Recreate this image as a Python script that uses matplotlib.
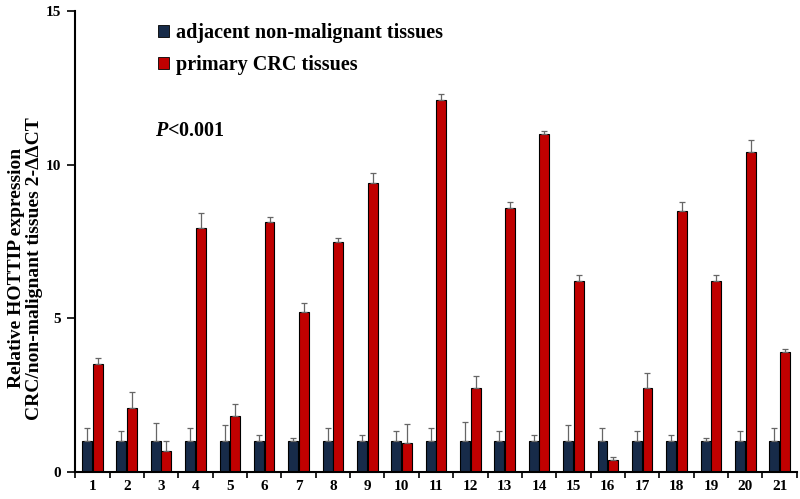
import numpy as np
import matplotlib.pyplot as plt
from matplotlib.patches import Patch

samples = [str(i) for i in range(1, 22)]
normal = [1.0] * 21
normal_err = [0.43, 0.33, 0.6, 0.43, 0.52, 0.2, 0.1, 0.43, 0.2, 0.32, 0.42,
              0.62, 0.32, 0.2, 0.52, 0.42, 0.32, 0.2, 0.1, 0.32, 0.42]
tumor = [3.5, 2.1, 0.7, 7.93, 1.83, 8.13, 5.2, 7.5, 9.4, 0.96, 12.1,
         2.72, 8.6, 11.0, 6.22, 0.4, 2.72, 8.5, 6.22, 10.4, 3.9]
tumor_err = [0.2, 0.5, 0.3, 0.5, 0.4, 0.17, 0.3, 0.13, 0.33, 0.6, 0.2,
             0.4, 0.2, 0.1, 0.2, 0.1, 0.5, 0.3, 0.2, 0.4, 0.1]

plt.rcParams['font.family'] = ['Liberation Serif', 'DejaVu Serif']
plt.rcParams['font.weight'] = 'bold'
plt.rcParams['mathtext.fontset'] = 'custom'
plt.rcParams['mathtext.it'] = 'Liberation Serif:italic:bold'

fig = plt.figure(figsize=(8, 4.99), dpi=100)
ax = fig.add_axes([0.094, 0.054, 0.902, 0.924])

x = np.arange(1, 22)
w = 0.29
navy = '#172B49'
red = '#C00000'
err_kw = dict(ecolor='#666666', elinewidth=0.9, capsize=2, capthick=0.9)

ax.bar(x - 0.155, normal, w, color=navy, edgecolor='black', linewidth=0.8,
       yerr=[np.zeros(21), normal_err], error_kw=err_kw)
ax.bar(x + 0.155, tumor, w, color=red, edgecolor='black', linewidth=0.8,
       yerr=[np.zeros(21), tumor_err], error_kw=err_kw)

ax.set_xlim(0.5, 21.5)
ax.set_ylim(0, 15)
ax.set_yticks([0, 5, 10, 15])
ax.set_xticks(np.arange(0.5, 22, 1))
ax.set_xticklabels([])
ax.set_xticks(x, minor=True)
ax.set_xticklabels(samples, minor=True)
ax.tick_params(axis='x', which='minor', length=0, pad=6)
ax.tick_params(axis='x', which='major', length=4, width=1.2)
ax.tick_params(axis='y', length=6, width=1.2, pad=4)
for lab in ax.get_xticklabels(minor=True) + ax.get_yticklabels():
    lab.set_fontweight('bold')
    lab.set_fontsize(11)

for s in ['top', 'right']:
    ax.spines[s].set_visible(False)
ax.spines['left'].set_linewidth(1.5)
ax.spines['bottom'].set_linewidth(1.5)

ax.set_ylabel('Relative HOTTIP expression\nCRC/non-malignant tissues 2-ΔΔCT',
              fontsize=14, fontweight='bold', linespacing=1.1)
ax.yaxis.set_label_coords(-0.044, 0.442)

handles = [Patch(facecolor=navy, edgecolor='black', linewidth=0.6),
           Patch(facecolor=red, edgecolor='black', linewidth=0.6)]
ax.legend(handles, ['adjacent non-malignant tissues', 'primary CRC tissues'],
          loc='upper left', bbox_to_anchor=(0.09, 1.013), frameon=False,
          prop={'size': 14.5, 'weight': 'bold'}, handlelength=0.55,
          handleheight=0.55, handletextpad=0.35, labelspacing=0.6)

ax.text(0.11, 0.74, r'$\mathit{P}$<0.001', transform=ax.transAxes,
        fontsize=14.5, fontweight='bold', va='center')

fig.savefig('out.png', dpi=100)
